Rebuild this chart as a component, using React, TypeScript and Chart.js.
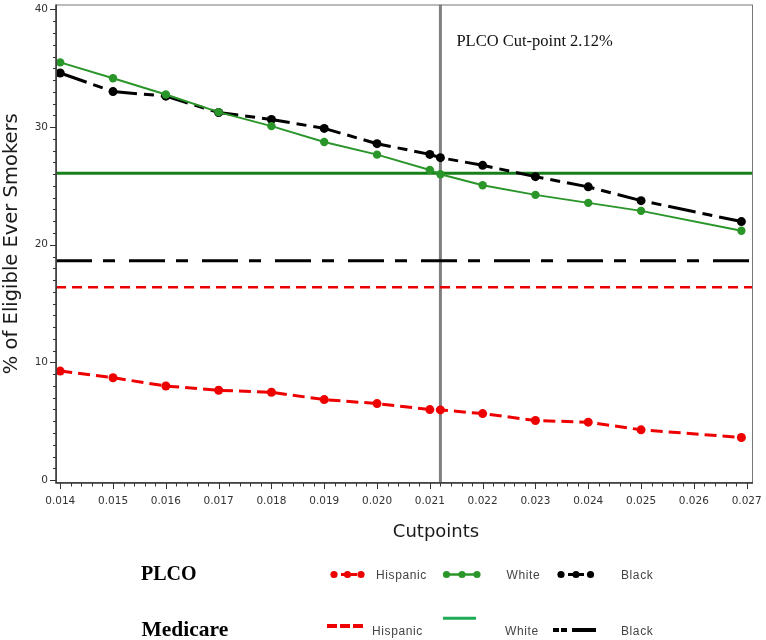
import React, { useEffect, useRef } from 'react';
import { Chart, registerables } from 'chart.js';

Chart.register(...registerables);

// ---- data ----
const cutpoints = [0.014, 0.015, 0.016, 0.017, 0.018, 0.019, 0.020, 0.021, 0.0212, 0.022, 0.023, 0.024, 0.025, 0.0269];
const plcoHispanic = [9.26, 8.70, 7.99, 7.63, 7.46, 6.84, 6.50, 5.99, 5.96, 5.65, 5.06, 4.92, 4.27, 3.62];
const plcoWhite = [35.5, 34.15, 32.77, 31.27, 30.08, 28.73, 27.66, 26.36, 25.99, 25.06, 24.24, 23.56, 22.88, 21.19];
const plcoBlack = [34.6, 33.02, 32.63, 31.24, 30.65, 29.89, 28.59, 27.68, 27.40, 26.75, 25.79, 24.92, 23.75, 21.97];
const medicareHispanic = 16.38;
const medicareWhite = 26.07;
const medicareBlack = 18.64;
const plcoCutpoint = 0.0212;
const cutpointLabel = 'PLCO Cut-point 2.12%';
const cutpointLabelY = 37.3;
const xRange = [0.01392, 0.02712];
const yRange = [-0.25, 40.42];
const xTicks = [0.014, 0.015, 0.016, 0.017, 0.018, 0.019, 0.020, 0.021, 0.022, 0.023, 0.024, 0.025, 0.026, 0.027];
const yTicks = [0, 10, 20, 30, 40];
const xTitle = 'Cutpoints';
const yTitle = '% of Eligible Ever Smokers';
const groupNames = ['PLCO', 'Medicare'];
const raceNames = ['Hispanic', 'White', 'Black'];

const RED = '#ee0000';
const GREEN = '#2a962a';
const DKGREEN = '#17801a';
const LTGREEN = '#1faa55';
const GRAY = '#808080';

const pts = (ys: number[]) => cutpoints.map((x, i) => ({ x, y: ys[i] }));
const hline = (v: number) => [{ x: xRange[0], y: v }, { x: xRange[1], y: v }];

const noPad = (s: any) => {
  s.paddingLeft = 0;
  s.paddingRight = 0;
  s.paddingTop = 0;
  s.paddingBottom = 0;
};

const overlay = {
  id: 'overlay',
  afterDraw(chart: any) {
    const { ctx, chartArea: a, scales } = chart;
    const x = scales.x;
    const y = scales.y;
    ctx.save();
    // frame
    ctx.strokeStyle = '#777';
    ctx.lineWidth = 1;
    ctx.strokeRect(a.left + 0.5, a.top + 0.5, a.right - a.left - 1, a.bottom - a.top - 1);
    ctx.strokeStyle = '#333';
    ctx.lineWidth = 1.5;
    ctx.beginPath();
    ctx.moveTo(a.left, a.top);
    ctx.lineTo(a.left, a.bottom);
    ctx.lineTo(a.right, a.bottom);
    ctx.stroke();
    // ticks (major + minor)
    ctx.lineWidth = 1;
    ctx.strokeStyle = '#333';
    ctx.beginPath();
    for (let v = 0; v <= 40; v++) {
      const len = v % 10 === 0 ? 6 : 3;
      const py = Math.round(y.getPixelForValue(v)) + 0.5;
      ctx.moveTo(a.left, py);
      ctx.lineTo(a.left - len, py);
    }
    for (let i = 0; i <= 65; i++) {
      const v = xTicks[0] + i * 0.0002;
      const len = i % 5 === 0 ? 6 : 3.5;
      const px = Math.round(x.getPixelForValue(v)) + 0.5;
      ctx.moveTo(px, a.bottom);
      ctx.lineTo(px, a.bottom + len);
    }
    ctx.stroke();

    // axis titles
    ctx.fillStyle = '#1a1a1a';
    ctx.font = '18px "DejaVu Sans"';
    ctx.textAlign = 'center';
    ctx.textBaseline = 'middle';
    ctx.fillText(xTitle, 436, 532.5);
    ctx.save();
    ctx.translate(12, (a.top + a.bottom) / 2);
    ctx.rotate(-Math.PI / 2);
    ctx.font = '19.5px "DejaVu Sans"';
    ctx.fillText(yTitle, 0, 0);
    ctx.restore();

    // cut-point annotation
    ctx.fillStyle = '#111';
    ctx.font = '16.5px "Liberation Serif"';
    ctx.textAlign = 'left';
    ctx.fillText(cutpointLabel, x.getPixelForValue(plcoCutpoint) + 16, y.getPixelForValue(cutpointLabelY));

    // legend
    const drawSample = (x0: number, x1: number, yy: number, color: string, w: number, dash: number[], dots: number[] | null) => {
      ctx.save();
      ctx.strokeStyle = color;
      ctx.lineWidth = w;
      ctx.setLineDash(dash);
      ctx.beginPath();
      ctx.moveTo(x0, yy);
      ctx.lineTo(x1, yy);
      ctx.stroke();
      ctx.setLineDash([]);
      if (dots) {
        ctx.fillStyle = color;
        dots.forEach((dx) => {
          ctx.beginPath();
          ctx.arc(dx, yy, 3.6, 0, Math.PI * 2);
          ctx.fill();
        });
      }
      ctx.restore();
    };
    ctx.textBaseline = 'alphabetic';
    ctx.fillStyle = '#000';
    ctx.font = 'bold 20px "Liberation Serif"';
    ctx.fillText(groupNames[0], 141, 580);
    ctx.font = 'bold 21.5px "Liberation Serif"';
    ctx.fillText(groupNames[1], 141.5, 635.5);

    const r1 = 574.5;
    drawSample(331, 364, r1, RED, 3, [6, 4], [334, 347.5, 361]);
    drawSample(445, 478, r1, GREEN, 2.5, [], [446.5, 462, 477]);
    drawSample(558, 593, r1, '#000', 3, [6, 4], [561, 576, 590.5]);
    drawSample(327, 363, 626, RED, 4, [10, 3], null);
    drawSample(443, 476, 618.3, LTGREEN, 3, [], null);
    drawSample(553, 596, 630, '#000', 4, [6, 2, 6, 5, 24, 100], null);

    ctx.fillStyle = '#444';
    ctx.font = '12px "Liberation Sans"';
    (ctx as any).letterSpacing = '0.6px';
    ctx.fillText(raceNames[0], 376, 579);
    ctx.fillText(raceNames[1], 506.5, 579);
    ctx.fillText(raceNames[2], 621, 579);
    ctx.fillText(raceNames[0], 372, 635);
    ctx.fillText(raceNames[1], 505, 635);
    ctx.fillText(raceNames[2], 621, 635);
    (ctx as any).letterSpacing = '0px';
    ctx.restore();
  },
};

export default function App() {
  const ref = useRef<HTMLCanvasElement | null>(null);
  useEffect(() => {
    if (!ref.current) return;
    const chart = new Chart(ref.current, {
      type: 'line',
      data: {
        datasets: [
          { label: 'PLCO Hispanic', data: pts(plcoHispanic), borderColor: RED, backgroundColor: RED, borderWidth: 3, borderDash: [12, 6], pointRadius: 4.5, pointBorderWidth: 0 },
          { label: 'PLCO White', data: pts(plcoWhite), borderColor: GREEN, backgroundColor: GREEN, borderWidth: 2, pointRadius: 4.2, pointBorderWidth: 0 },
          { label: 'PLCO Black', data: pts(plcoBlack), borderColor: '#000', backgroundColor: '#000', borderWidth: 3, borderDash: [28, 7, 10, 7], pointRadius: 4.5, pointBorderWidth: 0 },
          { label: 'Medicare Hispanic', data: hline(medicareHispanic), borderColor: RED, borderWidth: 2.5, borderDash: [10, 6], pointRadius: 0 },
          { label: 'Medicare White', data: hline(medicareWhite), borderColor: DKGREEN, borderWidth: 3, pointRadius: 0 },
          { label: 'Medicare Black', data: hline(medicareBlack), borderColor: '#000', borderWidth: 3, borderDash: [36, 11, 12, 14], pointRadius: 0 },
          { label: 'Cut-point', data: [{ x: plcoCutpoint, y: yRange[0] }, { x: plcoCutpoint, y: yRange[1] }], borderColor: GRAY, borderWidth: 3, pointRadius: 0 },
        ],
      },
      options: {
        responsive: false,
        animation: false,
        devicePixelRatio: 1,
        layout: { padding: { top: 3, right: 13, left: 0, bottom: 0 } },
        plugins: { legend: { display: false }, tooltip: { enabled: false } },
        elements: { line: { tension: 0, fill: false } },
        scales: {
          x: {
            type: 'linear',
            min: xRange[0],
            max: xRange[1],
            grid: { display: false, drawTicks: false },
            border: { display: false },
            afterBuildTicks: (s: any) => { s.ticks = xTicks.map((v) => ({ value: v })); },
            afterFit: (s: any) => { s.height = 157; noPad(s); },
            ticks: {
              autoSkip: false,
              maxRotation: 0,
              padding: 12,
              color: '#333',
              font: { family: 'DejaVu Sans', size: 10.5 },
              callback: (v: any) => Number(v).toFixed(3),
            },
          },
          y: {
            type: 'linear',
            min: yRange[0],
            max: yRange[1],
            grid: { display: false, drawTicks: false },
            border: { display: false },
            afterBuildTicks: (s: any) => { s.ticks = yTicks.map((v) => ({ value: v })); },
            afterFit: (s: any) => { s.width = 56; noPad(s); },
            ticks: {
              padding: 8,
              color: '#333',
              font: { family: 'DejaVu Sans', size: 10.5 },
              callback: (v: any) => String(v),
            },
          },
        },
      },
      plugins: [overlay],
    } as any);
    return () => chart.destroy();
  }, []);
  return (
    <div style={{ position: 'absolute', left: 0, top: 0, width: 766, height: 640, background: '#fff' }}>
      <canvas ref={ref} width={766} height={640} />
    </div>
  );
}
